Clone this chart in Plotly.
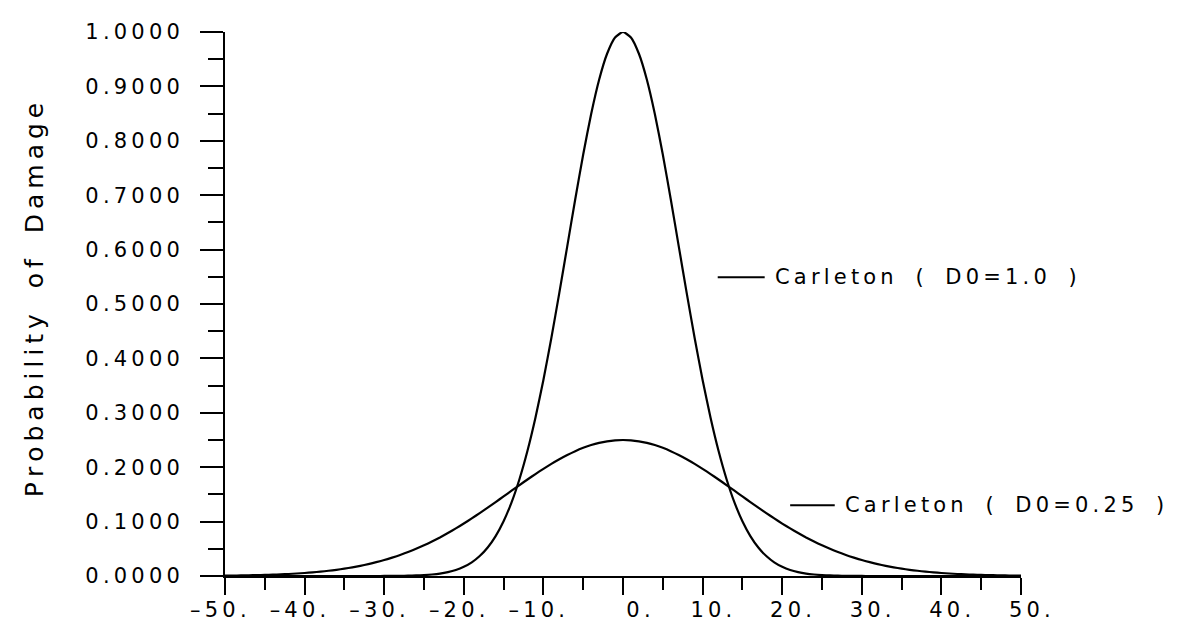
import plotly.graph_objects as go

# ---- data ----
x_vals = list(range(-50, 51))

# right half (x = 0 .. 50)
half_d0_100 = [1.0000, 0.9899, 0.9600, 0.9123, 0.8494, 0.7748, 0.6926, 0.6065, 0.5204, 0.4376,
               0.3604, 0.2909, 0.2301, 0.1783, 0.1353, 0.1007, 0.0734, 0.0524, 0.0367, 0.0251,
               0.0169, 0.0111, 0.0072, 0.0045, 0.0028, 0.0017, 0.0010, 0.0006, 0.0003, 0.0002,
               0.0001, 0.0, 0.0, 0.0, 0.0, 0.0, 0.0, 0.0, 0.0, 0.0,
               0.0, 0.0, 0.0, 0.0, 0.0, 0.0, 0.0, 0.0, 0.0, 0.0, 0.0]
half_d0_025 = [0.2500, 0.2494, 0.2476, 0.2447, 0.2407, 0.2356, 0.2295, 0.2225, 0.2147, 0.2062,
               0.1970, 0.1874, 0.1774, 0.1672, 0.1568, 0.1463, 0.1359, 0.1256, 0.1156, 0.1058,
               0.0964, 0.0875, 0.0790, 0.0709, 0.0634, 0.0564, 0.0500, 0.0441, 0.0386, 0.0338,
               0.0293, 0.0254, 0.0218, 0.0187, 0.0159, 0.0135, 0.0114, 0.0096, 0.0080, 0.0067,
               0.0055, 0.0046, 0.0037, 0.0031, 0.0025, 0.0020, 0.0016, 0.0013, 0.0010, 0.0008,
               0.0007]

p_d0_100 = half_d0_100[:0:-1] + half_d0_100
p_d0_025 = half_d0_025[:0:-1] + half_d0_025

x_tick_vals = [-50, -40, -30, -20, -10, 0, 10, 20, 30, 40, 50]
x_tick_labels = ["\u201350.", "\u201340.", "\u201330.", "\u201320.", "\u201310.",
                 "0.", "10.", "20.", "30.", "40.", "50."]
y_tick_vals = [0.0, 0.1, 0.2, 0.3, 0.4, 0.5, 0.6, 0.7, 0.8, 0.9, 1.0]
y_tick_labels = ["0.0000", "0.1000", "0.2000", "0.3000", "0.4000", "0.5000",
                 "0.6000", "0.7000", "0.8000", "0.9000", "1.0000"]

series_names = ["Carleton ( D0=1.0 )", "Carleton ( D0=0.25 )"]
y_title = "Probability of Damage"

FONT = "DejaVu Sans"
THIN = "\u2009"
FIG = "\u2007"


def spaced(s, gap=THIN):
    out = []
    for ch in s:
        if ch == " ":
            out.append("\u00a0\u00a0")
        else:
            out.append(ch)
    return gap.join(out)


def xpad(lbl):
    # right-aligned fixed-width field look
    if lbl.startswith("\u2013"):
        return spaced(lbl) + FIG
    if len(lbl) == 2:
        return FIG + FIG + THIN + spaced(lbl)
    return FIG + THIN + spaced(lbl)


fig = go.Figure()
for yv in (p_d0_100, p_d0_025):
    fig.add_trace(go.Scatter(x=x_vals, y=yv, mode="lines",
                             line=dict(color="black", width=2.2, shape="spline", smoothing=0.5),
                             showlegend=False, hoverinfo="skip"))

fig.update_layout(
    width=1184, height=626,
    margin=dict(l=217, r=171, t=20, b=58),
    paper_bgcolor="white", plot_bgcolor="white",
    font=dict(family=FONT, size=21, color="black"),
    xaxis=dict(range=[-50, 50], showgrid=False, zeroline=False,
               showline=True, linecolor="black", linewidth=2,
               ticks="outside", ticklen=17, tickwidth=2, tickcolor="black",
               tickmode="array", tickvals=x_tick_vals,
               ticktext=[xpad(t) for t in x_tick_labels],
               tickfont=dict(family=FONT, size=21),
               ticklabelstandoff=-3,
               minor=dict(dtick=5, ticklen=12, tickwidth=2, tickcolor="black", ticks="outside")),
    yaxis=dict(range=[0, 1], showgrid=False, zeroline=False,
               showline=True, linecolor="black", linewidth=2,
               ticks="outside", ticklen=23, tickwidth=2, tickcolor="black",
               tickmode="array", tickvals=y_tick_vals,
               ticktext=[spaced(t) for t in y_tick_labels],
               tickfont=dict(family=FONT, size=21),
               ticklabelstandoff=16,
               minor=dict(dtick=0.05, ticklen=15, tickwidth=2, tickcolor="black", ticks="outside")),
)

fig.add_annotation(text=spaced(y_title), xref="paper", yref="paper",
                   x=-0.24, y=0.507, textangle=-90, showarrow=False,
                   xanchor="center", yanchor="middle",
                   font=dict(family=FONT, size=25, color="black"))

# inline labels with a short line sample
label_pos = [(11.9, 17.8, 0.549), (21.0, 26.6, 0.130)]
for name, (x0, x1, yy) in zip(series_names, label_pos):
    fig.add_shape(type="line", xref="x", yref="y", x0=x0, x1=x1, y0=yy, y1=yy,
                  line=dict(color="black", width=2))
    fig.add_annotation(text=spaced(name), xref="x", yref="y", x=x1 + 1.0, y=yy,
                       xanchor="left", yanchor="middle", showarrow=False,
                       font=dict(family=FONT, size=21, color="black"))

fig.write_html("out.html")
